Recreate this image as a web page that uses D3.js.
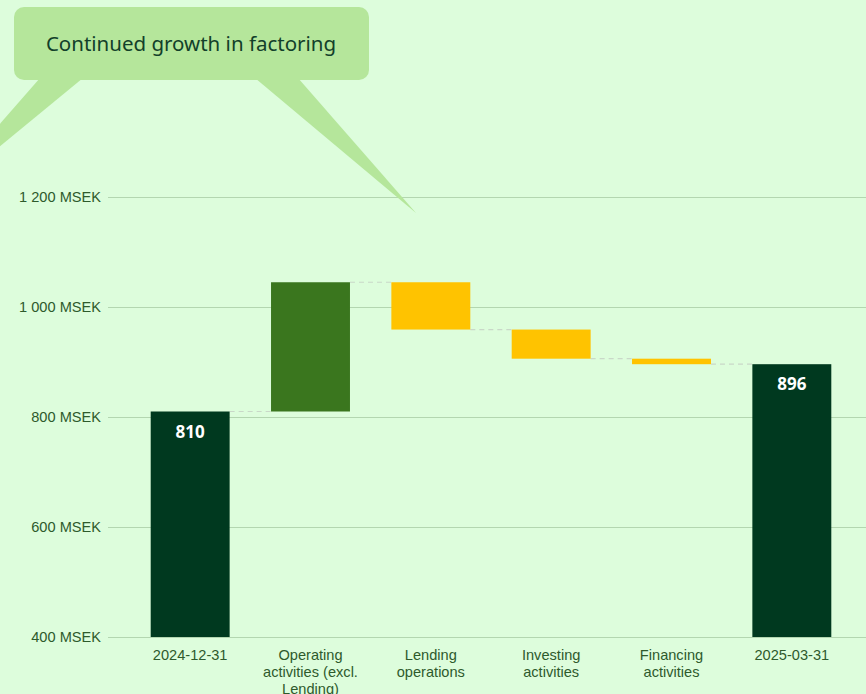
<!DOCTYPE html>
<meta charset="utf-8">
<style>
body{
    margin:0;
    background:#ddfddc;
}
svg{
    display:block;
}
.grid line{
  stroke:#b3d6b0;
  stroke-width:1px;
}
.ylab{
    font-family:"Liberation Sans", Arial, sans-serif;
    font-size:14.6px;
    fill:#2e5a2c;
    text-anchor:end;
}
.xlab{
    font-family:"Liberation Sans", Arial, sans-serif;
    font-size:14.6px;
    fill:#2e5a2c;
    text-anchor:middle;
}
.conn{
    stroke:#c9d8c8;
    stroke-width:1.2px;
    stroke-dasharray:5,4;
}
.vlab{
    font-family:"Open Sans", "Noto Sans", sans-serif;
    font-weight:bold;
    font-size:17px;
    fill:white;
    text-anchor:middle;
}
.callout{
    fill:#b5e69b;
}
.callout-text{
    font-family:"Noto Sans", "Open Sans", sans-serif;
    font-size:20.5px;
    fill:#12402a;
    text-anchor:middle;
}
</style>
<body>
<script src="https://cdn.jsdelivr.net/npm/d3@7"></script>
<script>
var categories = ["2024-12-31", "Operating activities (excl. Lending)", "Lending operations", "Investing activities", "Financing activities", "2025-03-31"];
var labelLines = [["2024-12-31"], ["Operating", "activities (excl.", "Lending)"], ["Lending", "operations"], ["Investing", "activities"], ["Financing", "activities"], ["2025-03-31"]];
var changes = [810, 235, -86, -53, -10, 896];
var kinds = ["total", "up", "down", "down", "down", "total"];
var yTicks = [400, 600, 800, 1000, 1200];
var calloutText = "Continued growth in factoring";

var W = 866, H = 694;
var colors = {total:"#00391f", up:"#3a761e", down:"#ffc300"};

// build waterfall steps
var bars = [], run = 0;
changes.forEach(function(v, i){
    var lo, hi;
    if(kinds[i] == "total"){ lo = 0; hi = v; run = v; }
    else { lo = run; hi = run + v; run = hi; }
    bars.push({cat:categories[i], lines:labelLines[i], kind:kinds[i], y0:Math.min(lo,hi), y1:Math.max(lo,hi), end:run, value:v});
});

var svg = d3.select("body").append("svg").attr("width", W).attr("height", H);

var x = d3.scaleBand().domain(categories).range([130, 852]).paddingInner(0.344).paddingOuter(0.172);
var y = d3.scaleLinear().domain([400, 1200]).range([637, 197]);

// grid
var g = svg.append("g").attr("class", "grid");
g.selectAll("line").data(yTicks).enter().append("line")
    .attr("x1", 108).attr("x2", W)
    .attr("y1", function(d){ return y(d) + 0.5; })
    .attr("y2", function(d){ return y(d) + 0.5; });

svg.append("g").selectAll("text").data(yTicks).enter().append("text")
    .attr("class", "ylab")
    .attr("x", 101)
    .attr("y", function(d){ return y(d) + 5; })
    .text(function(d){ return d3.format(",")(d).replace(/,/g, " ") + " MSEK"; });

// connectors
svg.append("g").selectAll("line").data(bars.slice(0, -1)).enter().append("line")
    .attr("class", "conn")
    .attr("x1", function(d){ return x(d.cat) + x.bandwidth(); })
    .attr("x2", function(d, i){ return x(categories[i+1]); })
    .attr("y1", function(d){ return y(d.end); })
    .attr("y2", function(d){ return y(d.end); });

// bars
svg.append("g").selectAll("rect").data(bars).enter().append("rect")
    .attr("x", function(d){ return x(d.cat); })
    .attr("width", x.bandwidth())
    .attr("y", function(d){ return y(d.y1); })
    .attr("height", function(d){ return y(Math.max(d.y0, 400)) - y(d.y1); })
    .attr("fill", function(d){ return colors[d.kind]; });

svg.append("g").selectAll("text").data(bars.filter(function(d){ return d.kind == "total"; })).enter().append("text")
    .attr("class", "vlab")
    .attr("x", function(d){ return x(d.cat) + x.bandwidth()/2; })
    .attr("y", function(d){ return y(d.y1) + 26; })
    .text(function(d){ return d.value; });

// x labels
var xl = svg.append("g").selectAll("text").data(bars).enter().append("text")
    .attr("class", "xlab")
    .attr("x", function(d){ return x(d.cat) + x.bandwidth()/2; })
    .attr("y", 660);
xl.selectAll("tspan").data(function(d){ return d.lines; }).enter().append("tspan")
    .attr("x", function(){ var p = d3.select(this.parentNode).datum(); return x(p.cat) + x.bandwidth()/2; })
    .attr("dy", function(d, i){ return i == 0 ? 0 : 17; })
    .text(function(d){ return d; });

// callout bubble
var c = svg.append("g");
c.append("path").attr("class", "callout").attr("d", "M40,78 L83,78 L-69,203 Z");
c.append("path").attr("class", "callout").attr("d", "M255,78 L298,78 L416,213 Z");
c.append("rect").attr("class", "callout")
    .attr("x", 14).attr("y", 7).attr("width", 355).attr("height", 73).attr("rx", 10);
c.append("text").attr("class", "callout-text")
    .attr("x", 191).attr("y", 51).text(calloutText);
</script>
